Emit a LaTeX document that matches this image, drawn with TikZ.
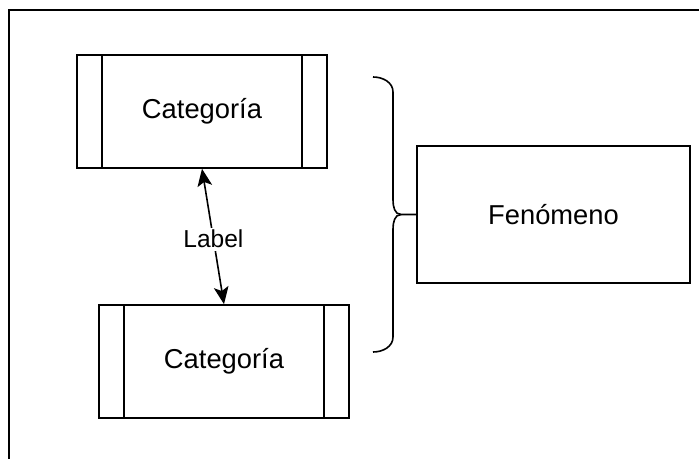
\documentclass[tikz,border=0pt]{standalone}
\usepackage{fontspec}
\setmainfont{Liberation Sans}
\usetikzlibrary{arrows.meta}
\begin{document}
\begin{tikzpicture}[x=0.75pt,y=-0.75pt,
  box/.style={draw, line width=1.2pt, inner sep=0pt, font=\fontsize{20.5}{24}\selectfont},
  procbox/.style={box, minimum width=187.5pt, minimum height=84.75pt,
    path picture={
      \draw[line width=1.2pt] ([xshift=18.75pt]path picture bounding box.north west) -- ([xshift=18.75pt]path picture bounding box.south west);
      \draw[line width=1.2pt] ([xshift=-18.75pt]path picture bounding box.north east) -- ([xshift=-18.75pt]path picture bounding box.south east);
    }},
  bigbox/.style={box, minimum width=204.75pt, minimum height=102.75pt},
  frameline/.style={line width=2pt},
  link/.style={line width=1.2pt, {Stealth[length=13pt,width=11pt,inset=3pt]}-{Stealth[length=13pt,width=11pt,inset=3pt]}},
  lbl/.style={fill=white, inner sep=2pt, font=\fontsize{18.4}{22}\selectfont},
  bracestyle/.style={line width=1.2pt}
]
\useasboundingbox (0,0) rectangle (699,459);
\coordinate (fbl) at (9,462);
\coordinate (ftl) at (9,10);
\coordinate (ftr) at (702,10);
\draw[frameline] (fbl) -- (ftl) -- (ftr);

\node[procbox] (cat1) at (202,111.5) {Categoría};
\node[procbox] (cat2) at (224,361.5) {Categoría};
\node[bigbox] (fen) at (553.5,214.5) {Fenómeno};

\draw[link] (cat1.south) -- node[lbl, pos=0.52] (lab) {Label} (cat2.north);

\coordinate (btop) at (373,77);
\coordinate (bbot) at (373,352);
\coordinate (btip) at (fen.west);
\draw[bracestyle] (btop) to[out=0,in=90] (393,92) -- (393,200) to[out=-90,in=180] (401,214.5) -- (btip);
\draw[bracestyle] (401,214.5) to[out=180,in=90] (393,229) -- (393,337) to[out=-90,in=0] (bbot);
\end{tikzpicture}
\end{document}
